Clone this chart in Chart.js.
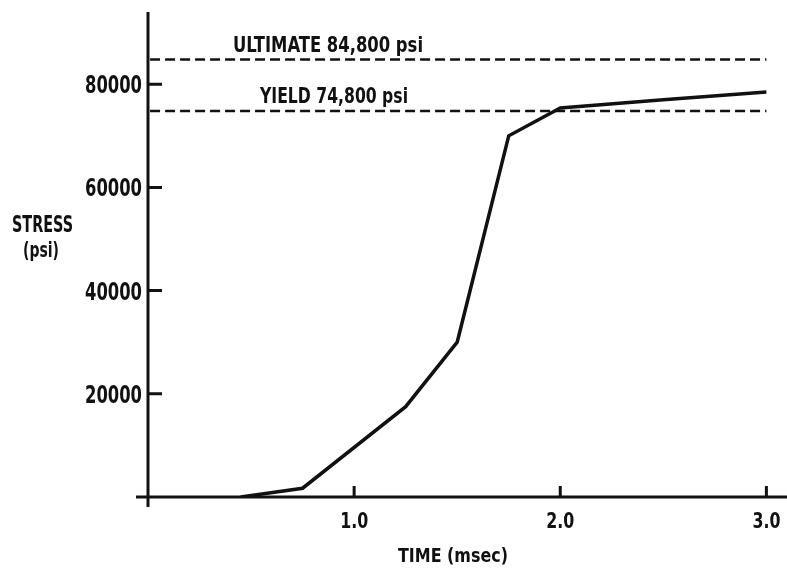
<!DOCTYPE html>
<html>
<head>
<meta charset="utf-8">
<script src="https://cdn.jsdelivr.net/npm/chart.js@4.4.1/dist/chart.umd.min.js"></script>
<style>
    html, body { margin: 0; padding: 0; background: #fff; }
    #wrap { width: 787px; height: 573px; }
</style>
</head>
<body>
<div id="wrap"><canvas id="stressChart" width="787" height="573"></canvas></div>
<script>
// Stress vs time data
const timeMs = [0.45, 0.75, 1.25, 1.5, 1.75, 2.0, 2.5, 3.0];
const stressPsi = [0, 1700, 17500, 30000, 70000, 75400, 77000, 78500];

// Reference levels
const limitNames = ['ULTIMATE 84,800 psi', 'YIELD 74,800 psi'];
const limitValues = [84800, 74800];
const limitSpan = [0.01, 3.0];

// Axis ticks
const xTicks = [0, 1.0, 2.0, 3.0];
const xTickLabels = ['', '1.0', '2.0', '3.0'];
const yTicks = [0, 20000, 40000, 60000, 80000];
const yTickLabels = ['', '20000', '40000', '60000', '80000'];

const FONT = '"Liberation Sans Narrow", "DejaVu Sans Condensed", "DejaVu Sans", sans-serif';
const INK = '#111';

// draw bold text squeezed horizontally to a given width
function narrowText(ctx, text, x, y, size, width, align) {
    ctx.save();
    ctx.font = 'bold ' + size + 'px ' + FONT;
    ctx.textBaseline = 'alphabetic';
    ctx.textAlign = 'left';
    const w = ctx.measureText(text).width;
    const k = Math.min(1, width / w);
    let left = x;
    if (align === 'center') left = x - (w * k) / 2;
    if (align === 'right') left = x - w * k;
    ctx.translate(left, y);
    ctx.scale(k, 1);
    ctx.fillText(text, 0, 0);
    ctx.restore();
}

const limitSets = limitValues.map((v, i) => ({
    label: limitNames[i],
    data: limitSpan.map(t => ({ x: t, y: v })),
    showLine: true,
    borderColor: INK,
    borderWidth: 2.5,
    borderDash: [10, 5],
    pointRadius: 0
}));

// Axes, inward ticks, tick labels and free text
const drawExtras = {
    id: 'drawExtras',
    afterDraw(chart) {
        const ctx = chart.ctx;
        const xs = chart.scales.x;
        const ys = chart.scales.y;
        const x0 = xs.getPixelForValue(0);
        const y0 = ys.getPixelForValue(0);

        ctx.save();
        ctx.strokeStyle = INK;
        ctx.fillStyle = INK;
        ctx.lineWidth = 3;
        ctx.beginPath();
        ctx.moveTo(x0, chart.chartArea.top);
        ctx.lineTo(x0, y0 + 10);
        ctx.moveTo(x0 - 12, y0);
        ctx.lineTo(chart.chartArea.right, y0);
        ctx.stroke();

        ctx.beginPath();
        ys.ticks.forEach(t => {
            if (t.value === 0) return;
            const py = ys.getPixelForValue(t.value);
            ctx.moveTo(x0, py);
            ctx.lineTo(x0 + 14, py);
        });
        xs.ticks.forEach(t => {
            if (t.value === 0) return;
            const px = xs.getPixelForValue(t.value);
            ctx.moveTo(px, y0);
            ctx.lineTo(px, y0 - 11);
        });
        ctx.stroke();

        // tick labels
        ys.ticks.forEach((t, i) => {
            if (!yTickLabels[i]) return;
            narrowText(ctx, yTickLabels[i], x0 - 6, ys.getPixelForValue(t.value) + 9, 24, 57, 'right');
        });
        xs.ticks.forEach((t, i) => {
            if (!xTickLabels[i]) return;
            narrowText(ctx, xTickLabels[i], xs.getPixelForValue(t.value), 528, 21, 28, 'center');
        });

        // level captions
        narrowText(ctx, limitNames[0], 233, ys.getPixelForValue(limitValues[0]) - 7, 21, 190, 'left');
        narrowText(ctx, limitNames[1], 260, ys.getPixelForValue(limitValues[1]) - 8, 21, 148, 'left');

        // axis titles
        narrowText(ctx, 'STRESS', 12, 232, 23, 61, 'left');
        narrowText(ctx, '(psi)', 23, 257, 22, 36, 'left');
        narrowText(ctx, 'TIME (msec)', 398, 562, 20, 110, 'left');
        ctx.restore();
    }
};

new Chart(document.getElementById('stressChart'), {
    type: 'scatter',
    data: {
        datasets: [{
            label: 'Stress',
            data: timeMs.map((t, i) => ({ x: t, y: stressPsi[i] })),
            showLine: true,
            borderColor: INK,
            borderWidth: 3.5,
            pointRadius: 0,
            tension: 0
        }, ...limitSets]
    },
    options: {
        responsive: false,
        devicePixelRatio: 1,
        animation: false,
        layout: { padding: { top: 12, left: 0, right: 0, bottom: 0 } },
        plugins: {
            legend: { display: false },
            tooltip: { enabled: false }
        },
        scales: {
            x: {
                type: 'linear',
                min: 0,
                max: 3.1,
                afterBuildTicks: (scale) => { scale.ticks = xTicks.map(v => ({ value: v })); },
                afterFit: (scale) => {
                    scale.height = 76;
                    scale.paddingLeft = 0;
                    scale.paddingRight = 0;
                },
                grid: { display: false, drawTicks: false },
                border: { display: false },
                ticks: { display: false }
            },
            y: {
                type: 'linear',
                min: 0,
                max: 94000,
                afterBuildTicks: (scale) => { scale.ticks = yTicks.map(v => ({ value: v })); },
                afterFit: (scale) => {
                    scale.width = 148;
                    scale.paddingTop = 0;
                    scale.paddingBottom = 0;
                },
                grid: { display: false, drawTicks: false },
                border: { display: false },
                ticks: { display: false }
            }
        }
    },
    plugins: [drawExtras]
});
</script>
</body>
</html>
